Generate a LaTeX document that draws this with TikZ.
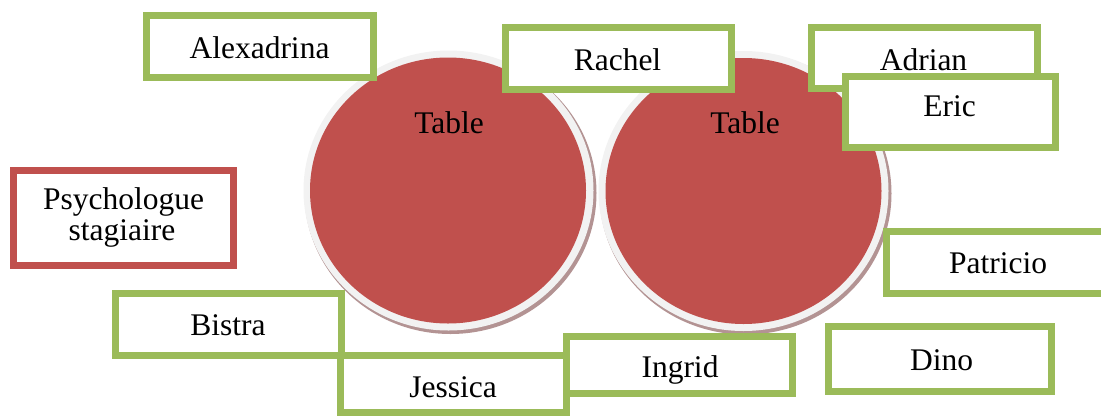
\documentclass[tikz,border=0pt]{standalone}
\usepackage{fontspec}
\setmainfont{Liberation Serif}
\usetikzlibrary{shapes.geometric}
\definecolor{ogreen}{HTML}{9BBB59}
\definecolor{ored}{HTML}{C0504D}
\definecolor{ring}{HTML}{F2F2F2}
\definecolor{shade}{HTML}{B39393}
\tikzset{
  gbox/.style={draw=ogreen, line width=7pt, fill=white, rectangle, inner sep=0pt},
  rbox/.style={draw=ored, line width=7pt, fill=white, rectangle, inner sep=0pt},
  lbl/.style={anchor=base, inner sep=0pt, font=\fontsize{31.5}{31}\selectfont},
  tshadow/.style={ellipse, fill=shade, draw=none, inner sep=0pt, minimum width=292pt, minimum height=282pt},
  tring/.style={ellipse, fill=ring, draw=none, inner sep=0pt, minimum width=290pt, minimum height=280pt},
  ttop/.style={ellipse, fill=ored, draw=none, inner sep=0pt, minimum width=276pt, minimum height=266pt}
}
\begin{document}
\begin{tikzpicture}[x=1pt,y=-1pt]
\useasboundingbox (0,0) rectangle (1101,416);
\clip (0,0) rectangle (1101,416);
% tables
\node[tshadow] (shL) at (450.5,193) {};
\node[tring] (ringL) at (448.5,190.5) {};
\node[ttop] (tabL) at (448,190.5) {};
\node[tshadow] (shR) at (745.5,193.5) {};
\node[tring] (ringR) at (743.5,191) {};
\node[ttop] (tabR) at (743.5,191) {};
\node[lbl] (tabLt) at (449,133) {Table};
\node[lbl] (tabRt) at (745,133) {Table};
% boxes
\node[gbox, minimum width=227pt, minimum height=62pt] (alex) at (260,46.5) {};
\node[lbl] (alext) at (259.5,58) {Alexadrina};
\node[gbox, minimum width=226pt, minimum height=62pt] (rachel) at (618.5,58.5) {};
\node[lbl] (rachelt) at (617.5,70) {Rachel};
\node[gbox, minimum width=226pt, minimum height=61pt] (adrian) at (924.5,58) {};
\node[lbl] (adriant) at (923.5,70) {Adrian};
\node[gbox, minimum width=210pt, minimum height=71pt] (eric) at (950.5,112) {};
\node[lbl] (erict) at (949.5,116.5) {Eric};
\node[rbox, minimum width=220pt, minimum height=95pt] (psy) at (123.5,218) {};
\node[lbl] (psyt1) at (123.5,209) {Psychologue};
\node[lbl] (psyt2) at (122,240) {stagiaire};
\node[gbox, minimum width=226pt, minimum height=62pt] (patricio) at (999.5,262.5) {};
\node[lbl] (patriciot) at (998,273) {Patricio};
\node[gbox, minimum width=226pt, minimum height=62pt] (bistra) at (228.5,324.5) {};
\node[lbl] (bistrat) at (228,335) {Bistra};
\node[gbox, minimum width=226pt, minimum height=57pt] (jessica) at (453.5,384) {};
\node[lbl] (jessicat) at (453,397) {Jessica};
\node[gbox, minimum width=226pt, minimum height=57pt] (ingrid) at (679.5,365) {};
\node[lbl] (ingridt) at (680,377) {Ingrid};
\node[gbox, minimum width=223pt, minimum height=65pt] (dino) at (940,359) {};
\node[lbl] (dinot) at (941.5,370) {Dino};
\end{tikzpicture}
\end{document}
